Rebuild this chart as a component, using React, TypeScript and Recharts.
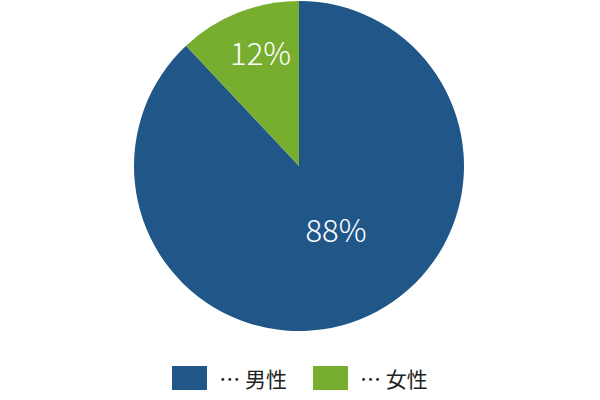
import React from 'react';
import { PieChart, Pie, Cell, Legend } from 'recharts';

const labels = ['男性', '女性'];
const values = [88, 12];
const colors = ['#215788', '#77ae30'];
// where the % label sits: share of the radius and a small angle nudge
const labelPos = [0.44, 0.73];
const labelTurn = [9, -3];

const data = labels.map((name, i) => ({ name, value: values[i] }));

const RAD = Math.PI / 180;

function renderLabel(props: any) {
    const { cx, cy, midAngle, outerRadius, index, value } = props;
    const r = outerRadius * labelPos[index];
    const a = (midAngle + labelTurn[index]) * RAD;
    const x = cx + r * Math.cos(-a);
    const y = cy + r * Math.sin(-a);
    return (
        <text x={x} y={y} fill="#fff" textAnchor="middle" dominantBaseline="central"
              fontSize={31} fontWeight={300} fontFamily='"Noto Sans CJK JP", "Noto Sans", sans-serif'>
            {value}%
        </text>
    );
}

function renderLegend() {
    return (
        <div style={{ display: 'flex', justifyContent: 'center', alignItems: 'center' }}>
            {labels.map((name, i) => (
                <div key={name} style={{ display: 'flex', alignItems: 'center', marginLeft: i ? 26 : 0 }}>
                    <div style={{ width: 35, height: 24, background: colors[i], marginRight: 12 }} />
                    <span style={{ fontSize: 21, color: '#222', fontFamily: '"Noto Sans CJK JP", sans-serif', lineHeight: '24px' }}>
                        … {name}
                    </span>
                </div>
            ))}
        </div>
    );
}

export default function App() {
    return (
        <div style={{ width: 600, height: 400, background: '#fff' }}>
            <style>{'body{margin:0}'}</style>
            <PieChart width={600} height={400} margin={{ top: 0, right: 0, bottom: 0, left: 0 }}>
                <Pie
                    data={data}
                    dataKey="value"
                    nameKey="name"
                    cx={299}
                    cy={166}
                    outerRadius={165}
                    startAngle={90}
                    endAngle={-270}
                    stroke="none"
                    label={renderLabel}
                    labelLine={false}
                    isAnimationActive={false}
                >
                    {data.map((d, i) => (
                        <Cell key={d.name} fill={colors[i]} />
                    ))}
                </Pie>
                <Legend content={renderLegend} wrapperStyle={{ top: 366, left: 0, width: 600 }} />
            </PieChart>
        </div>
    );
}
